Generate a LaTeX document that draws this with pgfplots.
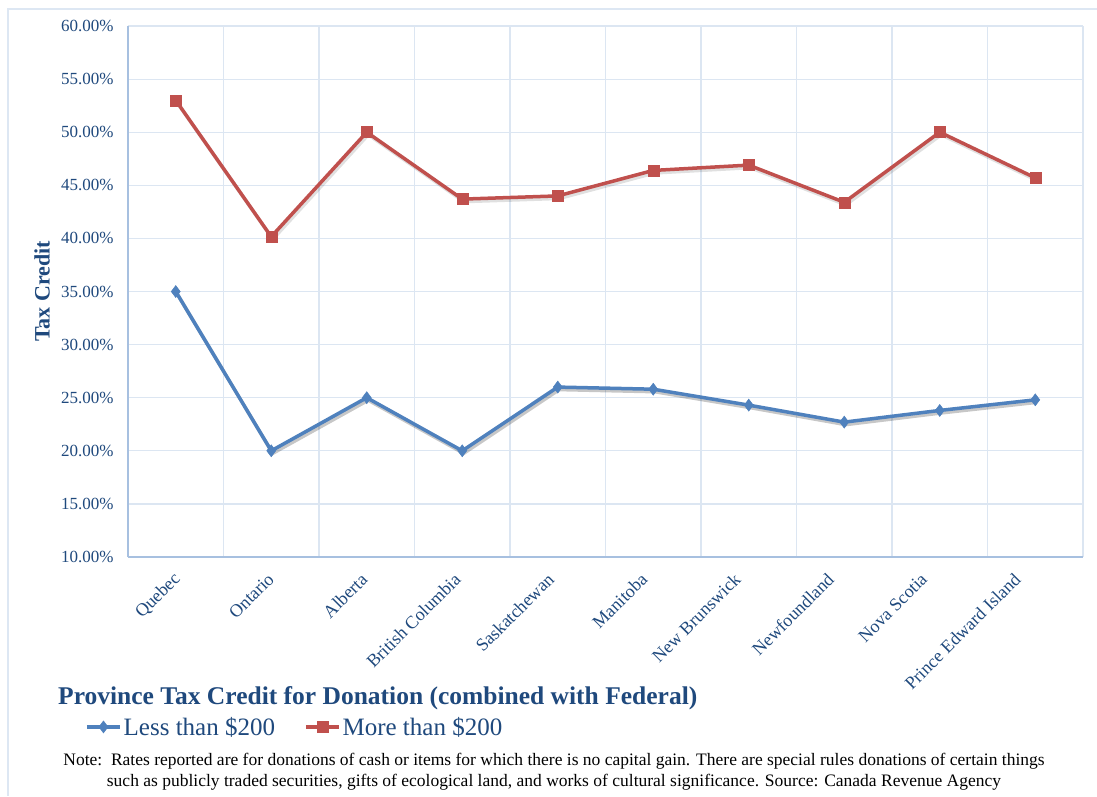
\documentclass[border=0pt]{standalone}
\usepackage{fontspec}
\setmainfont{Liberation Serif}
\usepackage{pgfplots}
\pgfplotsset{compat=1.18}
\definecolor{sblue}{HTML}{4F81BD}
\definecolor{sred}{HTML}{C0504D}
\definecolor{txtblue}{HTML}{1F497D}
\definecolor{gridc}{HTML}{DCE6F2}
\definecolor{axc}{HTML}{A7C0E0}
\definecolor{framec}{HTML}{DDE7F3}
\begin{document}
\begin{tikzpicture}
\useasboundingbox (-128pt,-239pt) rectangle (969pt,557pt);
\fill[white] (-128pt,-239pt) rectangle (969pt,557pt);
\draw[framec, line width=1.2pt] (969pt,548pt) -- (-120pt,548pt) -- (-120pt,-239pt);
\begin{axis}[
  at={(0pt,0pt)}, anchor=south west,
  scale only axis, width=955pt, height=531pt,
  xmin=-0.5, xmax=9.5, ymin=10, ymax=60,
  xtick={0.045,1.022,1.999,2.976,3.953,4.930,5.907,6.884,7.861,8.838},
  xticklabels={Quebec,Ontario,Alberta,British Columbia,Saskatchewan,Manitoba,New Brunswick,Newfoundland,Nova Scotia,Prince Edward Island},
  minor xtick={-0.5,0.5,...,9.5},
  ytick={10,15,...,60},
  xmajorgrids=false, xminorgrids=true, ymajorgrids=true,
  grid style={gridc, line width=1.2pt},
  minor grid style={gridc, line width=1.2pt},
  major tick length=0pt, minor tick length=0pt,
  axis x line*=bottom, axis y line*=left,
  axis line style={axc, line width=1.2pt, -},
  every outer x axis line/.append style={-},
  every outer y axis line/.append style={-},
  /pgf/number format/assume math mode=true,
  yticklabel={\pgfmathprintnumber[fixed,fixed zerofill,precision=2]{\tick}\%},
  tick label style={font=\fontsize{17pt}{20pt}\selectfont, text=txtblue},
  yticklabel style={xshift=-11pt},
  xticklabel style={font=\fontsize{18pt}{21pt}\selectfont, yshift=-17pt, rotate=45, anchor=east},
  ylabel={Tax Credit},
  ylabel style={at={(axis description cs:-0.090,0.5)}, anchor=center, font=\fontsize{22pt}{26pt}\selectfont\bfseries, text=txtblue},
  legend style={at={(axis description cs:-0.045,-0.320)}, anchor=west, draw=none, fill=none, inner sep=0pt,
    legend columns=2, font=\fontsize{25pt}{30pt}\selectfont, text=txtblue,
    /tikz/every even column/.append style={column sep=27pt}},
  legend image code/.code={\draw[mark repeat=2, mark phase=2, #1] plot coordinates {(0pt,0pt) (16.5pt,0pt) (33pt,0pt)};},
]
% shadows
\addplot[forget plot, no markers, black, opacity=0.22, line width=3.5pt, xshift=1.5pt, yshift=-2.5pt]
  coordinates {(0,35) (1,20) (2,25) (3,20) (4,26) (5,25.8) (6,24.3) (7,22.7) (8,23.8) (9,24.8)};
\addplot[forget plot, no markers, black, opacity=0.12, line width=3.5pt, xshift=1.5pt, yshift=-2.5pt]
  coordinates {(0,53) (1,40.16) (2,50) (3,43.7) (4,44) (5,46.4) (6,46.9) (7,43.4) (8,50) (9,45.7)};
% series
\addplot[sblue, line width=3.5pt, mark=diamond*, mark size=6pt, mark options={solid, fill=sblue, draw=sblue, line width=0.5pt}]
  coordinates {(0,35) (1,20) (2,25) (3,20) (4,26) (5,25.8) (6,24.3) (7,22.7) (8,23.8) (9,24.8)};
\addlegendentry{Less than \$200}
\addplot[sred, line width=3.5pt, mark=square*, mark size=5.5pt, mark options={solid, fill=sred, draw=sred, line width=0.5pt}]
  coordinates {(0,53) (1,40.16) (2,50) (3,43.7) (4,44) (5,46.4) (6,46.9) (7,43.4) (8,50) (9,45.7)};
\addlegendentry{More than \$200}
\end{axis}
\node[anchor=west, inner sep=0pt, text=txtblue, font=\fontsize{25.5pt}{30pt}\selectfont\bfseries] at (-70pt,-141pt)
  {Province Tax Credit for Donation (combined with Federal)};
\node[align=center, inner sep=0pt, font=\fontsize{17.5pt}{21pt}\selectfont] at (426pt,-215pt)
  {Note:\ \ Rates reported are for donations of cash or items for which there is no capital gain. There are special rules donations of certain things\\
   such as publicly traded securities, gifts of ecological land, and works of cultural significance. Source: Canada Revenue Agency};
\end{tikzpicture}
\end{document}
